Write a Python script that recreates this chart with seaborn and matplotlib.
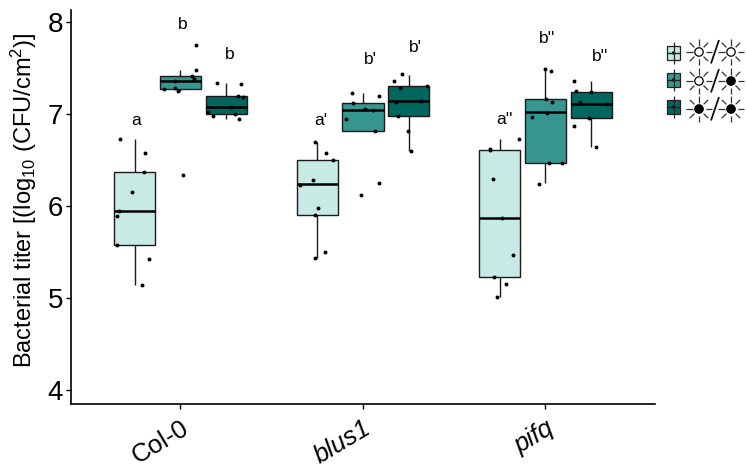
import numpy as np
import pandas as pd
import matplotlib
matplotlib.use("Agg")
import matplotlib.pyplot as plt
from matplotlib.lines import Line2D
from matplotlib.patches import Circle, Rectangle
from matplotlib.transforms import ScaledTranslation
import seaborn as sns

genotypes = ["Col-0", "blus1", "pifq"]
treatments = ["LL", "LD", "DD"]
colors = ["#C7EAE5", "#35978F", "#01665E"]

# five-number summaries: whisker low, q1, median, q3, whisker high
col0_LL = [5.14, 5.58, 5.95, 6.37, 6.73]
col0_LD = [7.255, 7.266, 7.356, 7.414, 7.476]
col0_DD = [6.945, 7.00, 7.08, 7.19, 7.335]
blus1_LL = [5.433, 5.907, 6.236, 6.50, 6.70]
blus1_LD = [6.81, 6.814, 7.04, 7.118, 7.226]
blus1_DD = [6.594, 6.973, 7.136, 7.306, 7.425]
pifq_LL = [5.01, 5.223, 5.867, 6.612, 6.727]
pifq_LD = [6.247, 6.463, 7.017, 7.158, 7.486]
pifq_DD = [6.637, 6.952, 7.11, 7.237, 7.357]

# individual samples (offset from the genotype tick, log10 titer)
col0_dx = [-.333, -.195, -.198, -.264, -.337, -.346, -.350, -.171, -.209,
           .087, .083, .063, .074, -.028, -.090, -.030, -.012, .012,
           .198, .331, .313, .341, .275, .152, .180, .297, .322]
col0_y = [6.73, 6.575, 6.37, 6.156, 5.95, 5.89, 5.58, 5.42, 5.14,
          7.75, 7.476, 7.414, 7.375, 7.356, 7.27, 7.28, 7.255, 6.34,
          7.34, 7.33, 7.19, 7.18, 7.08, 7.02, 6.98, 7.00, 6.945]
blus1_dx = [-.265, -.205, -.166, -.276, -.344, -.247, -.265, -.210, -.265,
            -.060, .088, -.057, .013, .053, -.093, .064, .090, -.009,
            .216, .170, .353, .205, .179, .320, .190, .245, .261]
blus1_y = [6.70, 6.572, 6.50, 6.286, 6.232, 5.975, 5.907, 5.50, 5.433,
           7.226, 7.197, 7.118, 7.053, 7.04, 6.944, 6.814, 6.247, 6.12,
           7.432, 7.356, 7.306, 7.277, 7.125, 7.136, 6.973, 6.814, 6.594]
pifq_dx = [-.304, -.304, -.147, -.288, -.238, -.176, -.284, -.218, -.265,
           -.001, .028, .003, .037, .010, -.074, .021, .092, -.034,
           .154, .168, .249, .189, .338, .238, .157, .278]
pifq_y = [6.62, 6.61, 6.73, 6.29, 5.867, 5.47, 5.223, 5.15, 5.01,
          7.486, 7.472, 7.158, 7.132, 7.013, 6.97, 6.463, 6.463, 6.243,
          7.357, 7.252, 7.237, 7.125, 7.103, 6.952, 6.865, 6.637]

letters = ["a", "b", "b", "a'", "b'", "b'", "a''", "b''", "b''"]
letter_x = [-.244, .014, .27, .77, 1.038, 1.285, 1.778, 2.008, 2.30]
letter_y = [6.93, 7.97, 7.65, 6.93, 7.59, 7.72, 6.94, 7.82, 7.62]

ylabel = r"Bacterial titer [(log$_{10}$ (CFU/cm$^{2}$)]"

sns.set_theme(style="ticks")
plt.rcParams["font.family"] = ["Liberation Sans", "DejaVu Sans"]
plt.rcParams["mathtext.fontset"] = "custom"
plt.rcParams["mathtext.rm"] = "Liberation Sans"
plt.rcParams["mathtext.it"] = "Liberation Sans:italic"
plt.rcParams["text.color"] = "black"
plt.rcParams["axes.labelcolor"] = "black"
plt.rcParams["xtick.color"] = "black"
plt.rcParams["ytick.color"] = "black"
plt.rcParams["axes.edgecolor"] = "black"

summaries = {
    "Col-0": [col0_LL, col0_LD, col0_DD],
    "blus1": [blus1_LL, blus1_LD, blus1_DD],
    "pifq": [pifq_LL, pifq_LD, pifq_DD],
}
rows = [(g, t, v) for g in genotypes
        for t, five in zip(treatments, summaries[g]) for v in five]
df = pd.DataFrame(rows, columns=["genotype", "treatment", "titer"])

W, H = 746, 474
fig = plt.figure(figsize=(W / 100, H / 100), dpi=100)
ax = fig.add_axes([71 / W, 1 - 404 / H, 584 / W, 394 / H])

sns.boxplot(data=df, x="genotype", y="titer", hue="treatment",
            order=genotypes, hue_order=treatments, palette=colors,
            saturation=1, width=0.75, gap=0.1, whis=(0, 100),
            showcaps=False, showfliers=False, linecolor="#1a1a1a", linewidth=1.0,
            medianprops={"linewidth": 1.8, "color": "black"},
            legend=False, ax=ax)

px = np.concatenate([np.asarray(d) + i for i, d in
                     enumerate([col0_dx, blus1_dx, pifq_dx])])
py = np.concatenate([col0_y, blus1_y, pifq_y])
sns.scatterplot(x=px, y=py, color="black", s=8, linewidth=0, zorder=5,
                legend=False, ax=ax)

for s, x, y in zip(letters, letter_x, letter_y):
    ax.text(x, y, s, ha="center", va="center", fontsize=12.5, color="black")

ax.set_xlim(-0.6, 2.6)
ax.set_ylim(3.848, 8.13)
ax.set_yticks([4, 5, 6, 7, 8])
ax.set_xticks([0, 1, 2])
ax.set_xticklabels(genotypes, rotation=31, ha="right", rotation_mode="anchor",
                   fontsize=18.5)
label_shift = [(0.03, -0.03), (0.19, -0.05), (0.03, 0.0)]
for lab, (dx, dy) in zip(ax.get_xticklabels(), label_shift):
    lab.set_transform(lab.get_transform()
                      + ScaledTranslation(dx, dy, fig.dpi_scale_trans))
ax.get_xticklabels()[1].set_style("italic")
ax.get_xticklabels()[2].set_style("italic")
ax.tick_params(axis="y", labelsize=20, length=3.6, width=1.0, pad=2)
ax.tick_params(axis="x", length=3.6, width=1.0, pad=5)
ax.set_xlabel("")
ax.set_ylabel(ylabel, fontsize=17)
ax.yaxis.set_label_coords(-0.055, 0.518)
for s in ["left", "bottom"]:
    ax.spines[s].set_linewidth(1.2)
sns.despine(ax=ax)


# hand-drawn key: mini box plus light/dark sun symbols, placed in pixels
def P(x, y):
    return x / W, 1 - y / H


def line(x0, y0, x1, y1, lw=1.0, c="#222222"):
    a, b = P(x0, y0), P(x1, y1)
    fig.add_artist(Line2D([a[0], b[0]], [a[1], b[1]], transform=fig.transFigure,
                          lw=lw, color=c, solid_capstyle="butt"))


def sun(cx, cy, filled):
    for k in range(8):
        t = k * np.pi / 4
        r0, r1 = 6.5, 13
        line(cx + r0 * np.cos(t), cy + r0 * np.sin(t),
             cx + r1 * np.cos(t), cy + r1 * np.sin(t), lw=0.9, c="#333333")
    fig.add_artist(Circle((cx, H - cy), 4.2, transform=None,
                          facecolor="black" if filled else "white",
                          edgecolor="black", linewidth=0.9))


rows_key = [(53, 52, False, False), (80, 81, False, True), (107, 109, True, True)]
for color, (by, sy, s1, s2) in zip(colors, rows_key):
    line(673.5, by - 11, 673.5, by + 11, lw=0.9)
    fig.add_artist(Rectangle((667, H - by - 7), 13, 14, transform=None,
                             facecolor=color, edgecolor="#222222", linewidth=0.9))
    line(667, by, 680, by, lw=1.0)
    fig.add_artist(Circle((673.5, H - by), 1.7, transform=None,
                          facecolor="black", edgecolor="none"))
    sun(699, sy, s1)
    sun(731, sy, s2)
    line(711, sy + 11.5, 719, sy - 12, lw=1.3, c="#111111")

fig.savefig("out.png", dpi=100)
